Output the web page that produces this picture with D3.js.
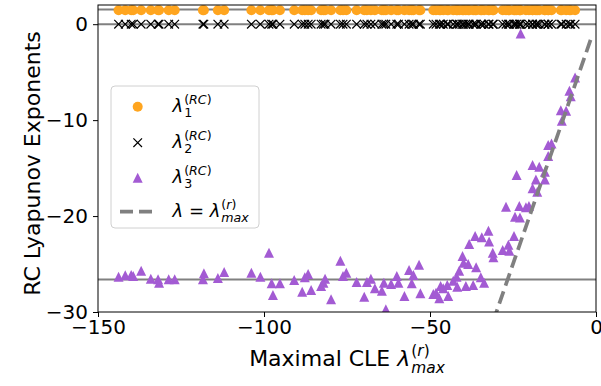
<!DOCTYPE html>
<html><head><meta charset="utf-8">
<script src="https://cdn.jsdelivr.net/npm/d3@7"></script>
<style>body{margin:0;background:#fff}svg{display:block;font-family:"DejaVu Sans",sans-serif}</style>
</head><body>
<svg id="c" width="601" height="386"></svg>
<script>
// Maximal CLE (x) for each sample
const cleMax = [-143.8,-141.8,-140.0,-139.4,-137.0,-134.1,-131.9,-131.6,-128.7,-126.9,
-118.1,-118.4,-113.9,-112.0,-103.8,-101.1,-98.5,-97.7,-97.3,-95.2,
-90.9,-88.5,-87.7,-86.7,-85.8,-82.8,-82.1,-81.6,-79.8,-77.0,
-76.2,-75.2,-72.1,-69.8,-69.0,-67.8,-66.6,-64.5,-63.9,-63.3,
-61.7,-60.0,-59.5,-57.7,-56.3,-55.5,-55.0,-53.3,-52.9,-49.0,
-48.2,-47.2,-46.8,-46.0,-44.8,-44.5,-43.0,-41.8,-42.0,-41.2,
-40.2,-39.9,-38.5,-39.2,-37.0,-36.1,-34.7,-33.7,-38.2,-36.4,
-34.4,-32.4,-32.2,-31.1,-30.9,-28.1,-26.1,-26.4,-24.7,-27.1,
-24.4,-22.9,-23.1,-21.1,-20.2,-22.7,-23.9,-19.1,-17.7,-18.1,
-15.4,-19.1,-17.1,-15.4,-14.4,-13.4,-14.4,-10.6,-9.0,-10.3,
-8.0,-7.6,-6.3];
// RC Lyapunov exponents
const lambda1 = [1.46,1.46,1.46,1.46,1.46,1.46,1.46,1.46,1.46,1.46,
1.46,1.46,1.46,1.46,1.46,1.46,1.46,1.46,1.46,1.46,
1.46,1.46,1.46,1.46,1.46,1.46,1.46,1.46,1.46,1.46,
1.46,1.46,1.46,1.46,1.46,1.46,1.46,1.46,1.46,1.46,
1.46,1.46,1.46,1.46,1.46,1.46,1.46,1.46,1.46,1.46,
1.46,1.46,1.46,1.46,1.46,1.46,1.46,1.46,1.46,1.46,
1.46,1.46,1.46,1.46,1.46,1.46,1.46,1.46,1.46,1.46,
1.46,1.46,1.46,1.46,1.46,1.46,1.46,1.46,1.46,1.46,
1.46,1.46,1.46,1.46,1.46,1.46,1.46,1.46,1.46,1.46,
1.46,1.46,1.46,1.46,1.46,1.46,1.46,1.46,1.46,1.46,
1.46,1.46,1.46];
const lambda2 = [0,0,0,0,0,0,0,0,0,0, 0,0,0,0,0,0,0,0,0,0, 0,0,0,0,0,0,0,0,0,0,
0,0,0,0,0,0,0,0,0,0, 0,0,0,0,0,0,0,0,0,0, 0,0,0,0,0,0,0,0,0,0,
0,0,0,0,0,0,0,0,0,0, 0,0,0,0,0,0,0,0,0,0, 0,0,0,0,0,0,0,0,0,0,
0,0,0,0,0,0,0,0,0,0, 0,0,0];
const lambda3 = [-26.32,-26.18,-26.15,-26.25,-25.70,-26.53,-26.59,-26.95,-26.59,-26.59,
-25.97,-26.59,-26.46,-25.83,-25.91,-26.32,-23.82,-27.01,-28.23,-27.01,
-26.67,-27.89,-26.39,-26.04,-27.71,-27.29,-26.95,-26.53,-28.68,-24.66,
-26.25,-25.91,-26.88,-28.41,-26.88,-26.53,-27.53,-27.78,-26.95,-29.72,
-27.08,-26.25,-26.95,-28.33,-25.63,-27.01,-26.15,-25.07,-28.05,-28.13,
-27.99,-28.57,-27.29,-27.53,-27.19,-28.33,-26.74,-27.36,-26.32,-25.70,
-24.17,-24.86,-25.00,-27.29,-27.19,-25.34,-26.39,-26.95,-22.92,-22.08,
-22.22,-21.53,-22.64,-23.82,-24.30,-23.54,-23.61,-22.99,-22.08,-19.03,
-20.07,-20.14,-18.96,-19.09,-18.96,-0.97,-15.73,-17.11,-17.47,-16.18,
-16.18,-14.69,-14.86,-15.39,-12.60,-12.43,-13.75,-8.96,-9.03,-10.07,
-6.95,-7.50,-5.55];
const refLines = [1.52, 0, -26.6];
const diagRange = [-31, -1.2];
const xTicks = [-150,-100,-50,0];
const yTicks = [-30,-20,-10,0];

const W=601,H=386, L=98,R=596,T=5,B=312;
const svg=d3.select("#c");
const x=d3.scaleLinear().domain([-150,0]).range([L,R]);
const y=d3.scaleLinear().domain([-30,2]).range([B,T]);
const FS=22, TFS=20;
svg.append("defs").append("clipPath").attr("id","clip").append("rect")
  .attr("x",L).attr("y",T).attr("width",R-L).attr("height",B-T);
const plot=svg.append("g").attr("clip-path","url(#clip)");

refLines.forEach(v=>plot.append("line").attr("x1",L).attr("x2",R).attr("y1",y(v)).attr("y2",y(v))
  .attr("stroke","#808080").attr("stroke-width",2));

const orange="#ffa51f", purple="#a35bd3";
plot.selectAll("circle.l1").data(cleMax).join("circle").attr("class","l1")
  .attr("cx",d=>x(d)).attr("cy",(d,i)=>y(lambda1[i])).attr("r",5).attr("fill",orange);
const xs=4.3;
plot.selectAll("path.l2").data(cleMax).join("path").attr("class","l2")
  .attr("transform",(d,i)=>`translate(${x(d)},${y(lambda2[i])})`)
  .attr("d",`M${-xs},${-xs}L${xs},${xs}M${-xs},${xs}L${xs},${-xs}`)
  .attr("stroke","#000").attr("stroke-width",1.2).attr("fill","none");
const tri="M0,-5L5,5L-5,5Z";
plot.selectAll("path.l3").data(cleMax).join("path").attr("class","l3")
  .attr("transform",(d,i)=>`translate(${x(d)},${y(lambda3[i])})`)
  .attr("d",tri).attr("fill",purple);
plot.append("line").attr("x1",x(diagRange[0])).attr("y1",y(diagRange[0]))
  .attr("x2",x(diagRange[1])).attr("y2",y(diagRange[1]))
  .attr("stroke","#808080").attr("stroke-width",3.7).attr("stroke-dasharray","13,6");

svg.append("rect").attr("x",L).attr("y",T).attr("width",R-L).attr("height",B-T)
  .attr("fill","none").attr("stroke","#000").attr("stroke-width",1);

const xa=svg.append("g").attr("transform",`translate(0,${B})`)
  .call(d3.axisBottom(x).tickValues(xTicks).tickSize(5).tickPadding(3));
const ya=svg.append("g").attr("transform",`translate(${L},0)`)
  .call(d3.axisLeft(y).tickValues(yTicks).tickSize(5).tickPadding(5));
[xa,ya].forEach(a=>{a.select(".domain").remove();
  a.selectAll("text").attr("font-size",TFS).attr("font-family","DejaVu Sans").attr("fill","#000");
  a.selectAll("line").attr("stroke","#000");});

function mathText(g, x0, yb, pre, sup, sub, fs, anchor){
  const t=g.append("text").attr("y",yb).attr("font-size",fs).attr("fill","#000");
  if(pre){t.append("tspan").text(pre);}
  t.append("tspan").attr("font-style","italic").text("λ");
  const baseW=t.node().getComputedTextLength();
  const sfs=fs*0.7;
  const s1=g.append("text").attr("y",yb-fs*0.45).attr("font-size",sfs).attr("fill","#000");
  sup.forEach(p=>s1.append("tspan").attr("font-style",p[1]?"italic":"normal").text(p[0]));
  const s2=g.append("text").attr("y",yb+fs*0.3).attr("font-size",sfs).attr("fill","#000")
    .attr("font-style",sub[1]?"italic":"normal").text(sub[0]);
  const w1=s1.node().getComputedTextLength(), w2=s2.node().getComputedTextLength();
  const total=baseW+1+Math.max(w1,w2);
  let start=x0;
  if(anchor==="middle") start=x0-total/2;
  t.attr("x",start);
  s1.attr("x",start+baseW+1); s2.attr("x",start+baseW+1);
  return total;
}

mathText(svg, (L+R)/2, 366, "Maximal CLE ", [["(",0],["r",1],[")",0]], ["max",1], FS, "middle");
svg.append("text").attr("transform",`translate(40,${(T+B)/2+5}) rotate(-90)`).attr("text-anchor","middle")
  .attr("font-size",FS).text("RC Lyapunov Exponents");

const lg=svg.append("g");
lg.append("rect").attr("x",111).attr("y",86).attr("width",148).attr("height",142).attr("rx",4)
  .attr("fill","#fff").attr("fill-opacity",0.8).attr("stroke","#d0d0d0").attr("stroke-width",1);
const rows=[106.7,142.7,177.7,211.7];
lg.append("circle").attr("cx",137.7).attr("cy",rows[0]).attr("r",5).attr("fill",orange);
lg.append("path").attr("transform",`translate(137.7,${rows[1]})`)
  .attr("d",`M${-xs},${-xs}L${xs},${xs}M${-xs},${xs}L${xs},${-xs}`).attr("stroke","#000").attr("stroke-width",1.2);
lg.append("path").attr("transform",`translate(137.7,${rows[2]})`).attr("d",tri).attr("fill",purple);
lg.append("line").attr("x1",120).attr("x2",155).attr("y1",rows[3]).attr("y2",rows[3])
  .attr("stroke","#808080").attr("stroke-width",3.7).attr("stroke-dasharray","13,6");
const lfs=18;
["1","2","3"].forEach((n,i)=>mathText(lg,172.5,rows[i]+5,null,[["(",0],["RC",1],[")",0]],[n,0],lfs,"start"));
(function(){
  const yb=rows[3]+5;
  const t=lg.append("text").attr("x",172.5).attr("y",yb).attr("font-size",lfs);
  t.append("tspan").attr("font-style","italic").text("λ");
  t.append("tspan").text(" = ");
  t.append("tspan").attr("font-style","italic").text("λ");
  const w=t.node().getComputedTextLength();
  lg.append("text").attr("x",172.5+w+1).attr("y",yb-lfs*0.45).attr("font-size",lfs*0.7)
    .html('(<tspan font-style="italic">r</tspan>)');
  lg.append("text").attr("x",172.5+w+1).attr("y",yb+lfs*0.3).attr("font-size",lfs*0.7).attr("font-style","italic").text("max");
})();
</script>
</body></html>
